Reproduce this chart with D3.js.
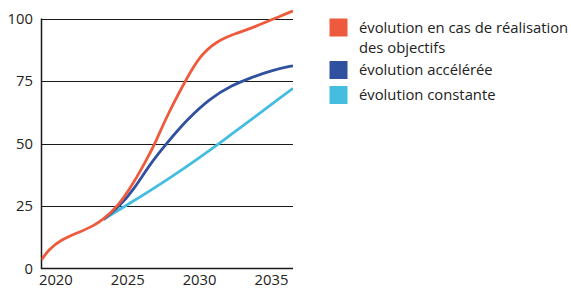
<!DOCTYPE html>
<html>
<head>
<meta charset="utf-8">
<script src="https://cdn.jsdelivr.net/npm/d3@7"></script>
<style>
  html, body { margin: 0; padding: 0; background: #fff; }
  svg { display: block; }
</style>
</head>
<body>
<svg id="chart" width="571" height="288"></svg>
<script>
// values (share, in %)
const yearsTarget = [2019, 2019.5, 2020.3, 2021.7, 2022.6, 2023.3, 2024.3, 2025.4, 2026.3, 2026.9, 2027.7, 2029.0, 2030.0, 2031.2, 2032.5, 2033.7, 2035.8, 2036.5];
const valuesTarget = [3.5, 7.5, 11.4, 14.7, 17, 19.6, 24.7, 34.1, 43.4, 50, 60.7, 75, 85, 91, 94, 96.3, 101.4, 103];

const yearsFast = [2023.3, 2024.4, 2025.4, 2026.5, 2027.7, 2029.1, 2030.7, 2032.3, 2033.5, 2035.1, 2036.5];
const valuesFast = [19.6, 24.7, 31.4, 41.4, 50, 59.4, 68, 73.4, 76.2, 79.4, 81.1];

const yearsConst = [2023.3, 2025.5, 2028.1, 2031.4, 2036.5];
const valuesConst = [19.6, 27.3, 36.7, 50, 72.1];

const yTicks = [0, 25, 50, 75, 100];
const xTicks = [2020, 2025, 2030, 2035];

const legendLabels = [
  ['évolution en cas de réalisation', 'des objectifs'],
  ['évolution accélérée'],
  ['évolution constante'],
];
const colors = ['#ee5a3c', '#2f519f', '#45bde0'];

const svg = d3.select('#chart');
const FONT = '"Open Sans", sans-serif';

const x = d3.scaleLinear().domain([2019, 2036.5]).range([41.5, 293]);
const y = d3.scaleLinear().domain([0, 100]).range([268.5, 18.5]);

// gridlines
svg.append('g')
  .selectAll('line')
  .data(yTicks.filter(d => d > 0))
  .join('line')
  .attr('x1', x(2019)).attr('x2', x(2036.5))
  .attr('y1', d => Math.round(y(d)) + 0.5).attr('y2', d => Math.round(y(d)) + 0.5)
  .attr('stroke', '#1a1a1a')
  .attr('stroke-width', 1);

// axes lines
svg.append('path')
  .attr('d', `M${x(2019)},${y(100)} V${y(0)} H${x(2036.5)}`)
  .attr('fill', 'none')
  .attr('stroke', '#1a1a1a')
  .attr('stroke-width', 1.5);

// y tick labels
svg.append('g')
  .selectAll('text')
  .data(yTicks)
  .join('text')
  .attr('x', 33)
  .attr('y', d => y(d))
  .attr('dy', '0.35em')
  .attr('text-anchor', 'end')
  .attr('font-family', FONT)
  .attr('font-size', 14.8)
  .attr('fill', '#222')
  .text(d => d);

// x tick labels
svg.append('g')
  .selectAll('text')
  .data(xTicks)
  .join('text')
  .attr('x', d => x(d))
  .attr('y', 285)
  .attr('text-anchor', 'middle')
  .attr('font-family', FONT)
  .attr('font-size', 14.8)
  .attr('fill', '#222')
  .text(d => d);

const line = d3.line()
  .x(d => x(d[0]))
  .y(d => y(d[1]))
  .curve(d3.curveBasis);

const series = [
  { xs: yearsConst, vs: valuesConst, color: colors[2] },
  { xs: yearsFast, vs: valuesFast, color: colors[1] },
  { xs: yearsTarget, vs: valuesTarget, color: colors[0] },
];

const plot = svg.append('g');
plot.append('defs').append('clipPath').attr('id', 'clip')
  .append('rect').attr('x', x(2019)).attr('y', 0).attr('width', x(2036.5) - x(2019)).attr('height', y(0));

series.forEach(s => {
  plot.append('path')
    .datum(d3.zip(s.xs, s.vs))
    .attr('clip-path', 'url(#clip)')
    .attr('d', line)
    .attr('fill', 'none')
    .attr('stroke', s.color)
    .attr('stroke-width', 2.8)
    .attr('stroke-linecap', 'butt');
});

// legend
const legend = svg.append('g');
const itemY = [18.5, 61, 86];
legendLabels.forEach((lines, i) => {
  legend.append('rect')
    .attr('x', 329.5).attr('y', itemY[i])
    .attr('width', 18).attr('height', 18)
    .attr('fill', colors[i]);
  lines.forEach((t, j) => {
    legend.append('text')
      .attr('x', 359)
      .attr('y', itemY[i] + 9 + j * 20)
      .attr('dy', '0.35em')
      .attr('font-family', FONT)
      .attr('font-size', 14.8)
      .attr('fill', '#222')
      .text(t);
  });
});
</script>
</body>
</html>
